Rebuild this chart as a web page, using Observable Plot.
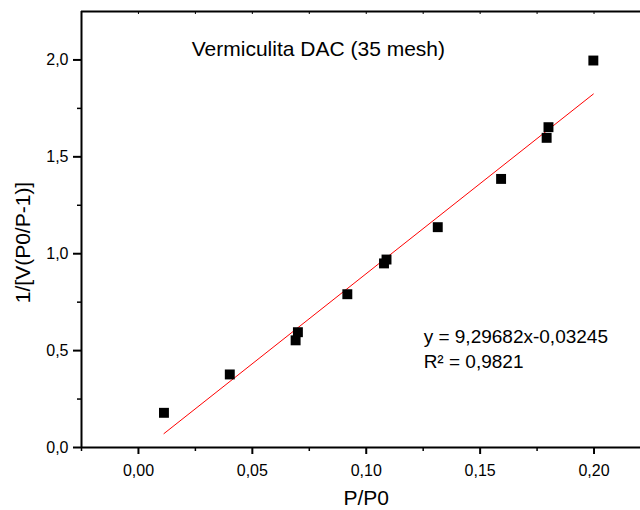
<!DOCTYPE html>
<html>
<head>
<meta charset="utf-8">
<script src="https://cdn.jsdelivr.net/npm/d3@7"></script>
<script src="https://cdn.jsdelivr.net/npm/@observablehq/plot@0.6"></script>
<style>
  html, body { margin: 0; padding: 0; background: #fff; overflow: hidden; }
  #chart { width: 640px; height: 510px; }
</style>
</head>
<body>
<div id="chart"></div>
<script>
// ---- data ----
const pp0   = [0.0112, 0.0401, 0.0690, 0.0700, 0.0917, 0.1078, 0.1089, 0.1314, 0.1592, 0.1792, 0.1800, 0.1997];
const invV  = [0.179, 0.377, 0.553, 0.595, 0.791, 0.950, 0.970, 1.137, 1.386, 1.598, 1.653, 1.997];
const fitSlope = 9.29682;
const fitIntercept = -0.03245;
const fitLabels = ["y = 9,29682x-0,03245", "R\u00B2 = 0,9821"];
const chartTitle = "Vermiculita DAC (35 mesh)";
const xLabel = "P/P0";
const yLabel = "1/[V(P0/P-1)]";
const xTicks = [0, 0.05, 0.10, 0.15, 0.20];
const xTickLabels = ["0,00", "0,05", "0,10", "0,15", "0,20"];
const xMinorTicks = [-0.025, 0.025, 0.075, 0.125, 0.175];
const yTicks = [0, 0.5, 1.0, 1.5, 2.0];
const yTickLabels = ["0,0", "0,5", "1,0", "1,5", "2,0"];
const yMinorTicks = [0.25, 0.75, 1.25, 1.75];

const points = pp0.map((x, i) => ({x, y: invV[i]}));
const xFit = [d3.min(pp0), d3.max(pp0)];
const fitLine = xFit.map(x => ({x, y: fitSlope * x + fitIntercept}));

const xDomain = [-0.025, 0.2204];
const yDomain = [0, 2.25];
const font = "'Liberation Sans', Arial, sans-serif";

const chart = Plot.plot({
  width: 640,
  height: 510,
  marginLeft: 81,
  marginRight: 0,
  marginTop: 11,
  marginBottom: 63,
  style: {fontFamily: font, fontSize: "16px", color: "#000", background: "#fff", overflow: "visible"},
  x: {domain: xDomain},
  y: {domain: yDomain},
  marks: [
    // minor ticks
    Plot.axisX({ticks: xMinorTicks, tickSize: 4, tickFormat: null, text: null, strokeWidth: 1.5, label: null}),
    Plot.axisY({ticks: yMinorTicks, tickSize: 4, tickFormat: null, text: null, strokeWidth: 1.5, label: null}),
    // top inward ticks
    Plot.axisX({anchor: "top", ticks: [...xMinorTicks, ...xTicks], tickSize: -2, text: null, strokeWidth: 1, label: null}),
    // major ticks with labels
    Plot.axisX({ticks: xTicks, tickSize: 7, tickPadding: 10, strokeWidth: 2, fontSize: 16,
      tickFormat: d => xTickLabels[xTicks.indexOf(d)], label: null}),
    Plot.axisY({ticks: yTicks, tickSize: 8, tickPadding: 5, strokeWidth: 2, fontSize: 16,
      tickFormat: d => yTickLabels[yTicks.indexOf(d)], label: null}),
    // frame lines
    Plot.ruleY([yDomain[0]], {stroke: "#000", strokeWidth: 2}),
    Plot.ruleY([yDomain[1]], {stroke: "#000", strokeWidth: 2}),
    Plot.ruleX([xDomain[0]], {stroke: "#000", strokeWidth: 2}),
    // fit line
    Plot.line(fitLine, {x: "x", y: "y", stroke: "#ff0000", strokeWidth: 1}),
    // data points
    Plot.dot(points, {x: "x", y: "y", symbol: "square", r: 5.6, fill: "#000", stroke: null}),
    // title
    Plot.text([chartTitle], {x: 0.0234, y: 2.057, text: d => d, textAnchor: "start", lineAnchor: "middle", fontSize: 21, fill: "#000"}),
    // equation
    Plot.text(fitLabels, {x: 0.1252, y: (d, i) => [0.573, 0.444][i], text: d => d, textAnchor: "start", lineAnchor: "middle", fontSize: 19, fill: "#000"}),
    // axis labels
    Plot.text([xLabel], {x: 0.1, frameAnchor: "bottom", dy: 51, text: d => d, textAnchor: "middle", lineAnchor: "middle", fontSize: 21, fill: "#000"}),
    Plot.text([yLabel], {y: 1.058, frameAnchor: "left", dx: -58, rotate: -90, text: d => d, textAnchor: "middle", lineAnchor: "middle", fontSize: 21, fill: "#000"})
  ]
});
document.getElementById("chart").append(chart);
</script>
</body>
</html>
